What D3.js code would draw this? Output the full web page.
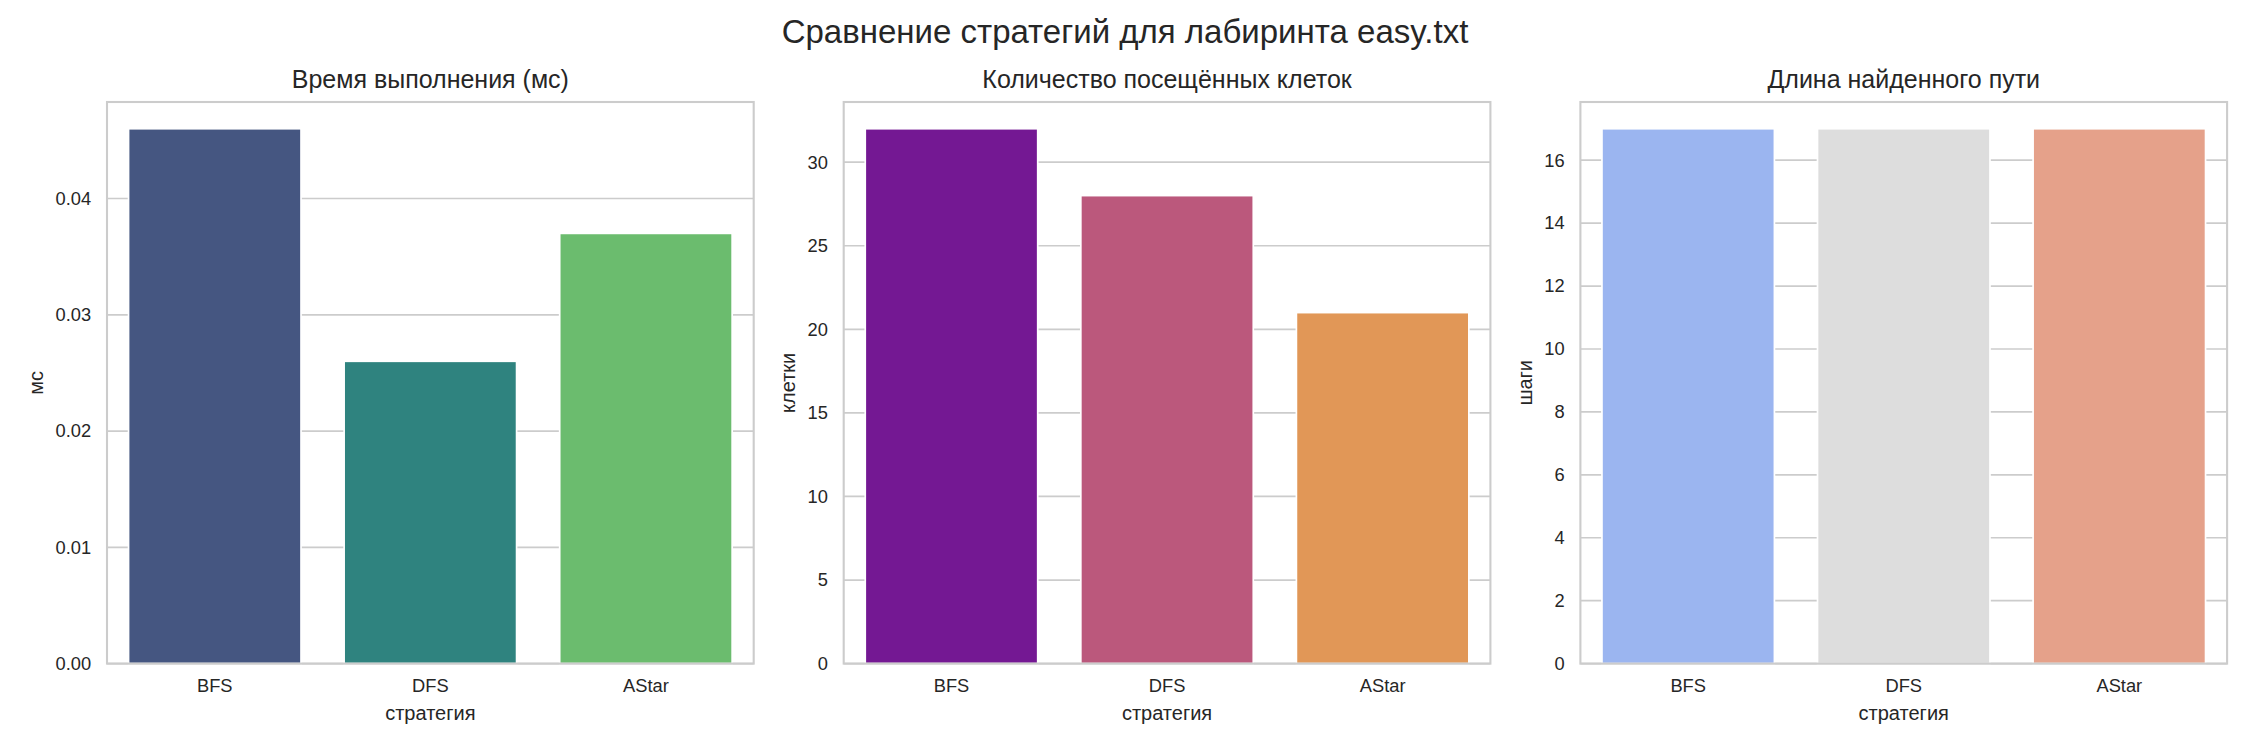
<!DOCTYPE html>
<html>
<head>
<meta charset="utf-8">
<script src="https://cdn.jsdelivr.net/npm/d3@7"></script>
<style>
  body { margin: 0; background: #fff; }
  text { font-family: "Liberation Sans", Arial, sans-serif; fill: #262626; }
</style>
</head>
<body>
<div id="chart"></div>
<script>
  // data
  var strategies = ["BFS", "DFS", "AStar"];
  var timeMs = [0.046, 0.026, 0.037];
  var visitedCells = [32, 28, 21];
  var pathLength = [17, 17, 17];

  var timeTicks = [0, 0.01, 0.02, 0.03, 0.04];
  var cellTicks = [0, 5, 10, 15, 20, 25, 30];
  var pathTicks = [0, 2, 4, 6, 8, 10, 12, 14, 16];

  var titles = ["Время выполнения (мс)", "Количество посещённых клеток", "Длина найденного пути"];
  var yLabels = ["мс", "клетки", "шаги"];
  var xLabel = "стратегия";
  var supTitle = "Сравнение стратегий для лабиринта easy.txt";

  // seaborn palettes (viridis / plasma / coolwarm), desaturated like barplot does
  var viridisBase = ["#3b528b", "#21918c", "#5ec962"];
  var plasmaBase = ["#7e03a8", "#cc4778", "#f89540"];
  var coolwarmBase = ["#8db0fe", "#dddddd", "#f49a7b"];

  var width = 2250, height = 750;
  var plotTop = 102, plotBottom = 663.6;
  var left0 = 107, gap = 90, panelWidth = 646.7;

  function desat(c) {
    var h = d3.hsl(c);
    h.s = h.s * 0.75;
    return h.formatHex();
  }

  var svg = d3.select("#chart")
              .append("svg")
              .attr("width", width)
              .attr("height", height);

  svg.append("text")
     .attr("x", width / 2)
     .attr("y", 43)
     .attr("text-anchor", "middle")
     .style("font-size", "33px")
     .text(supTitle);

  function drawPanel(i, values, ticks, fmt, palette) {
    var x0 = left0 + i * (panelWidth + gap),
        x1 = x0 + panelWidth;

    var x = d3.scaleBand()
              .domain(strategies)
              .range([x0, x1])
              .paddingInner(0.2)
              .paddingOuter(0.1);

    var y = d3.scaleLinear()
              .domain([0, d3.max(values) * 1.05])
              .range([plotBottom, plotTop]);

    var g = svg.append("g");

    // horizontal grid
    g.selectAll(".grid")
     .data(ticks)
     .enter()
     .append("line")
     .attr("x1", x0)
     .attr("x2", x1)
     .attr("y1", function(d) { return y(d); })
     .attr("y2", function(d) { return y(d); })
     .attr("stroke", "#cccccc")
     .attr("stroke-width", 1.7);

    g.selectAll(".bar")
     .data(values)
     .enter()
     .append("rect")
     .attr("x", function(d, j) { return x(strategies[j]); })
     .attr("width", x.bandwidth())
     .attr("y", function(d) { return y(d); })
     .attr("height", function(d) { return plotBottom - y(d); })
     .attr("fill", function(d, j) { return desat(palette[j]); })
     .attr("stroke", "#ffffff")
     .attr("stroke-width", 1.7);

    // frame
    g.append("rect")
     .attr("x", x0)
     .attr("y", plotTop)
     .attr("width", x1 - x0)
     .attr("height", plotBottom - plotTop)
     .attr("fill", "none")
     .attr("stroke", "#cccccc")
     .attr("stroke-width", 2.1);

    var yAxis = d3.axisLeft(y)
                  .tickValues(ticks)
                  .tickFormat(fmt)
                  .tickSize(0)
                  .tickPadding(15.8);

    var ya = g.append("g")
              .attr("transform", "translate(" + x0 + ",0)")
              .call(yAxis);
    ya.select(".domain").remove();
    ya.selectAll("text")
      .style("font-size", "18.3px")
      .attr("fill", "#262626");

    var xAxis = d3.axisBottom(x)
                  .tickSize(0)
                  .tickPadding(15.8);

    var xa = g.append("g")
              .attr("transform", "translate(0," + plotBottom + ")")
              .call(xAxis);
    xa.select(".domain").remove();
    xa.selectAll("text")
      .style("font-size", "18.3px")
      .attr("fill", "#262626");

    var maxTick = 0;
    ya.selectAll("text").each(function() {
      maxTick = Math.max(maxTick, this.getComputedTextLength());
    });

    g.append("text")
     .attr("transform", "translate(" + (x0 - 15.8 - maxTick - 12.5) + "," + ((plotTop + plotBottom) / 2) + ") rotate(-90)")
     .attr("text-anchor", "middle")
     .style("font-size", "20px")
     .text(yLabels[i]);

    g.append("text")
     .attr("x", (x0 + x1) / 2)
     .attr("y", 720)
     .attr("text-anchor", "middle")
     .style("font-size", "20px")
     .text(xLabel);

    g.append("text")
     .attr("x", (x0 + x1) / 2)
     .attr("y", 88)
     .attr("text-anchor", "middle")
     .style("font-size", "25px")
     .text(titles[i]);
  }

  drawPanel(0, timeMs, timeTicks, d3.format(".2f"), viridisBase);
  drawPanel(1, visitedCells, cellTicks, d3.format("d"), plasmaBase);
  drawPanel(2, pathLength, pathTicks, d3.format("d"), coolwarmBase);
</script>
</body>
</html>
